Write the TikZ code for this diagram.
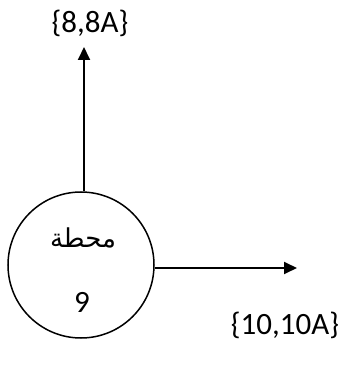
\documentclass[tikz,border=0pt]{standalone}
\usepackage{fontspec}
\setmainfont{Carlito}
\newfontfamily\arabicfont[Script=Arabic]{DejaVu Sans}
\TeXXeTstate=1
\usetikzlibrary{arrows.meta}
\begin{document}
\begin{tikzpicture}[x=1pt,y=1pt,
  lbl/.style={font=\fontsize{31}{36}\selectfont, inner sep=0pt},
  conn/.style={line width=1.8pt, -{Triangle[length=13pt,width=12pt]}}]
\useasboundingbox (0,0) rectangle (344,365);
\node[circle, draw, line width=1.5pt, minimum size=146pt, inner sep=0pt] (c) at (81,100) {};
\node[inner sep=0pt, font=\fontsize{26}{30}\selectfont\arabicfont] (ar) at (83,127) {\beginR محطة\endR};
\node[lbl] (n9) at (82,63) {9};
\node[lbl] (top) at (90,342) {\{8,8A\}};
\node[lbl] (right) at (285,40) {\{10,10A\}};
\coordinate (tipT) at (84,318);
\coordinate (tipR) at (297,97);
\draw[conn] (c.north -| tipT) -- (tipT);
\draw[conn] (c.east |- tipR) -- (tipR);
\end{tikzpicture}
\end{document}
